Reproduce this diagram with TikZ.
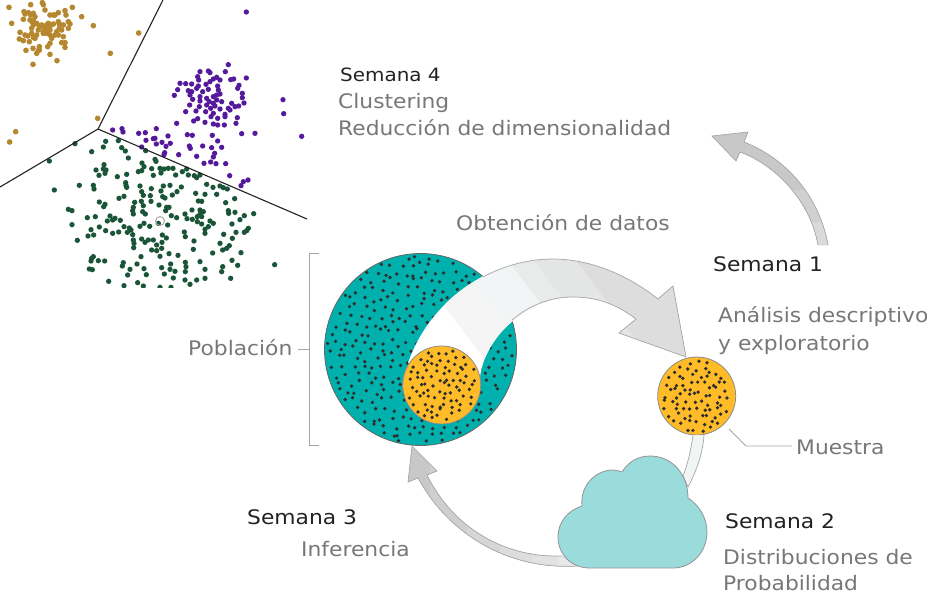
\documentclass[tikz,border=0pt]{standalone}
\usepackage{fontspec}
\setmainfont[FakeStretch=1.09]{DejaVu Sans}
\definecolor{teal1}{HTML}{00B0AD}
\definecolor{orange1}{HTML}{FFBB28}
\definecolor{cloud1}{HTML}{9ADCDB}
\definecolor{txtgray}{HTML}{777777}
\definecolor{txtdark}{HTML}{222222}
\definecolor{edge1}{HTML}{A6A6A6}
\definecolor{brown1}{HTML}{B5872E}
\definecolor{purple1}{HTML}{551A9B}
\definecolor{green1}{HTML}{1B5538}
\definecolor{F1F5F5}{HTML}{F1F5F5}
\definecolor{E9EBEB}{HTML}{E9EBEB}
\definecolor{E4E5E5}{HTML}{E4E5E5}
\definecolor{DDDDDD}{HTML}{DDDDDD}
\definecolor{C8C8C8}{HTML}{C8C8C8}
\definecolor{CFCFCF}{HTML}{CFCFCF}
\definecolor{D6D6D6}{HTML}{D6D6D6}
\definecolor{E2E2E2}{HTML}{E2E2E2}
\definecolor{E8E8E8}{HTML}{E8E8E8}
\definecolor{D0D0D0}{HTML}{D0D0D0}
\definecolor{DADADA}{HTML}{DADADA}
\tikzset{
  head/.style={anchor=base west,inner sep=0pt,text=txtdark,font=\fontsize{20}{24}\selectfont},
  headsmall/.style={anchor=base west,inner sep=0pt,text=txtdark,font=\fontsize{18.3}{22}\selectfont},
  body/.style={anchor=base west,inner sep=0pt,text=txtgray,font=\fontsize{20}{24}\selectfont},
  guide/.style={draw=edge1,line width=.8pt},
  sep/.style={draw=txtdark,line width=1.1pt},
  arrowedge/.style={draw=edge1,line width=.7pt},
  disc/.style={circle,inner sep=0pt,draw=#1}
}
\newcommand{\sprinkle}[4]{% cx cy radius spacing
  \foreach \rw in {-12,...,12}{
    \foreach \cl in {-12,...,12}{
      \pgfmathsetmacro\px{(\cl+0.5*mod(abs(\rw),2))*#4+rand*0.38*#4}
      \pgfmathsetmacro\py{\rw*#4*0.866+rand*0.38*#4}
      \pgfmathsetmacro\inside{veclen(\px,\py)<#3?1:0}
      \ifdim\inside pt>0.5pt
        \fill[black!82] ({#1+\px},{#2+\py}) circle (1.85);
      \fi
    }
  }}
\newcommand{\bandfill}[3]{\fill[#1] ({#2-76},{#3-100}) -- ({#2+76},{#3+100}) -- (800,{#3+100}) -- (800,{#3-100}) -- cycle;}
\def\bigouter{(408,363) .. controls (430,300) and (490,259) .. (553,259) .. controls (590,259) and (628,275) .. (658,299)}
\def\biginner{(636,319) .. controls (615,303) and (595,297) .. (573,297) .. controls (530,297) and (485,335) .. (480,377)}
\def\lowouter{(577,566) .. controls (515,570) and (452,540) .. (418,478)}
\def\lowinner{(427,475) .. controls (453,528) and (505,558) .. (562,556)}
\def\topouter{(828,245) .. controls (820,200) and (790,160) .. (744,142)}
\def\topinner{(740,152) .. controls (775,165) and (810,200) .. (818,245)}
\begin{document}
\begin{tikzpicture}[x=1pt,y=-1pt]
\useasboundingbox (0,0) rectangle (927,592);
% clusters
\begin{scope}
\clip (0,0) rectangle (307,287);
\begin{scope}[x=.33333pt,y=-.33333pt]
\foreach \p/\q in {27/22,92/14,127/8,130/14,217/22,245/50,280/77,416/99,331/160,293/355,47/395,29/426,35/70,99/193,171/182,150/163,78/151,99/145,72/35,85/38,100/40,135/30,150/45,165/45,175/38,195/32,198/45,205/65,210/72,205/85,70/58,90/60,110/70,125/75,145/70,160/72,175/65,190/75,95/85,115/90,135/85,150/90,170/95,185/90,60/97,75/105,95/100,110/105,130/100,150/105,175/105,190/110,58/117,70/122,88/125,105/115,155/115,185/128,195/142,150/130,143/140,118/140,115/152,110/160,96/65,120/80,140/75,130/95,100/75,118/78,150/78,165/105,178/85,83/108,100/112,142/92,160/45,92/45,105/50,195/128,118/150,75/42,100/62,178/72,140/100,148/82}
  \fill[brown1] (\p,\q) circle (8.5);
\foreach \p/\q in {739/36,685/194,600/215,625/213,630/218,660/240,676/215,739/234,692/239,701/237,593/230,596/240,650/232,640/237,540/250,557/251,575/252,595/258,630/245,618/253,653/258,717/256,713/265,533/269,565/272,575/275,590/265,625/268,655/270,608/275,650/285,660/282,727/280,727/293,523/286,570/285,578/298,600/290,600/303,620/295,640/290,628/305,640/310,620/315,645/318,650/300,665/305,695/310,705/320,716/318,732/309,685/325,690/330,569/315,598/320,557/335,588/333,617/335,632/325,660/327,675/343,640/340,633/350,675/350,653/355,712/353,593/356,581/363,530/370,615/367,640/372,653/375,673/375,708/370,849/299,851/341,338/390,366/386,369/396,416/400,436/398,469/386,725/401,765/400,905/409,562/404,577/406,637/406,504/408,465/415,460/416,438/421,486/427,511/430,469/432,653/423,425/441,498/439,568/438,571/445,608/438,635/443,665/442,494/458,492/464,536/464,590/469,644/460,640/471,612/490,632/486,648/491,677/491,689/527,730/545,744/540,723/557}
  \fill[purple1] (\p,\q) circle (8);
\foreach \p/\q in {225/431,317/424,355/422,275/455,310/441,365/443,376/453,437/452,385/474,148/483,465/478,468/484,312/494,426/489,288/510,310/507,318/510,315/520,297/526,380/523,352/530,432/500,425/512,415/515,455/506,480/505,492/507,505/505,519/505,483/519,460/526,527/525,547/515,560/507,565/525,583/527,590/533,600/525,238/556,280/556,282/567,163/570,377/548,378/556,380/562,420/558,454/566,490/558,510/556,544/561,620/553,639/562,660/558,670/563,682/567,425/575,430/586,451/587,483/573,488/590,495/594,517/585,531/575,587/580,615/583,650/583,357/595,372/589,298/606,315/613,311/620,404/607,424/604,430/617,453/604,477/615,595/603,605/604,677/608,704/596,205/628,216/632,400/622,398/632,428/635,436/642,500/622,497/632,507/622,555/642,576/630,600/630,610/635,685/632,686/640,705/637,761/641,262/653,286/650,330/648,345/655,322/663,338/660,361/661,400/642,514/647,530/653,561/656,577/658,592/650,600/643,605/650,720/659,733/647,216/674,298/681,372/680,388/684,432/670,420/679,449/679,475/670,503/675,592/665,605/672,630/663,640/670,625/680,615/688,696/672,273/689,317/692,338/700,356/696,382/697,393/690,398/704,487/705,553/696,615/700,671/703,708/697,733/697,745/685,740/692,264/708,281/705,232/721,400/720,402/730,425/717,435/727,445/720,460/720,470/735,486/727,499/714,556/710,582/723,697/715,660/730,401/743,455/750,470/752,485/745,580/748,668/750,680/745,688/737,638/759,723/758,423/770,480/769,507/761,534/766,275/775,280/770,273/783,295/782,314/783,600/785,696/781,370/788,367/798,411/792,512/792,556/787,558/800,713/796,824/794,268/807,277/809,432/806,485/803,510/808,525/814,615/808,668/800,665/815,390/808,383/825,439/824,493/822,556/815,520/834,326/844,413/848,555/840,590/840,615/835,692/835,372/857,430/858,570/853,480/862,513/862}
  \fill[green1] (\p,\q) circle (8);
\end{scope}
\end{scope}
\coordinate (hub) at (98,129);
\coordinate (sepA) at (163,0);
\coordinate (sepB) at (0,187);
\coordinate (sepC) at (307,219);
\draw[sep] (hub) -- (sepA);
\draw[sep] (hub) -- (sepB);
\draw[sep] (hub) -- (sepC);
\node[disc=black!35,line width=.9pt,minimum size=9pt] (centroid) at (160,221) {};
% population
\node[disc=black!60,fill=teal1,line width=.8pt,minimum size=192pt] (pop) at (420.5,349.5) {};
\pgfmathsetseed{4177}
\sprinkle{420.5}{349.5}{94}{9.85}
% big arrow
\begin{scope}
\clip \bigouter -- (673,286) -- (686,357) -- (619,333) -- \biginner -- cycle;
\fill[white] (380,240) rectangle (700,380);
\bandfill{white!96!black}{445}{307}
\bandfill{F1F5F5}{475}{282}
\bandfill{E9EBEB}{513}{267}
\bandfill{E4E5E5}{535}{262}
\bandfill{DDDDDD}{577}{262}
\end{scope}
\draw[arrowedge] (483,277) .. controls (505,265) and (530,259) .. (553,259) .. controls (590,259) and (628,275) .. (658,299) -- (673,286) -- (686,357) -- (619,333) -- (636,319) .. controls (615,303) and (595,297) .. (573,297) .. controls (550,297) and (530,305) .. (512,320);
% inner sample
\node[disc=black!45,fill=orange1,line width=.8pt,minimum size=78pt] (sub) at (441.7,385) {};
\pgfmathsetseed{91}
\sprinkle{441.7}{385}{36}{7.6}
% sample
\node[disc=black!45,fill=orange1,line width=.8pt,minimum size=78pt] (sample) at (696.7,396) {};
\pgfmathsetseed{377}
\sprinkle{696.7}{396}{36}{7.6}
% thin arrow to cloud
\draw[arrowedge,fill=F1F5F5] (693,435) .. controls (691,450) and (688,463) .. (683,476) -- (688,487) .. controls (697,470) and (703,452) .. (704,435);
% lower arrow
\begin{scope}
\clip \lowouter -- (408,482) -- (412,446) -- (437,471) -- \lowinner -- cycle;
\fill[C8C8C8] (400,440) rectangle (600,570);
\fill[CFCFCF] (430,440) rectangle (600,575);
\fill[D6D6D6] (467,440) rectangle (600,575);
\fill[DDDDDD] (500,440) rectangle (600,575);
\fill[E2E2E2] (532,440) rectangle (600,575);
\fill[E8E8E8] (558,440) rectangle (600,575);
\end{scope}
\draw[arrowedge] \lowouter -- (408,482) -- (412,446) -- (437,471) -- \lowinner;
% cloud
\draw[line width=.8pt,draw=black!42,fill=cloud1] (590,568) .. controls (570,568) and (558,553) .. (558,537) .. controls (558,521) and (569,510) .. (582,506) .. controls (580,485) and (596,470) .. (613,470) .. controls (616,470) and (619,471) .. (622,472) .. controls (628,462) and (638,456) .. (650,456) .. controls (672,456) and (688,474) .. (688,498) .. controls (699,505) and (707,518) .. (707,532) .. controls (707,552) and (692,568) .. (673,568) -- cycle;
% top arrow
\begin{scope}
\clip \topouter -- (748,132) -- (712,136) -- (736,161) -- \topinner -- cycle;
\fill[C8C8C8] (700,120) rectangle (840,250);
\fill[D0D0D0] (700,190) rectangle (840,250);
\fill[DADADA] (700,222) rectangle (840,250);
\end{scope}
\draw[arrowedge] \topouter -- (748,132) -- (712,136) -- (736,161) -- \topinner;
% texts
\node[headsmall] (s4) at (340,81) {Semana 4};
\node[body] (clu) at (338,108) {Clustering};
\node[body] (red) at (338,135) {Reducción de dimensionalidad};
\node[body] (obt) at (456,230) {Obtención de datos};
\node[head] (s1) at (713,271) {Semana 1};
\node[body] (ana) at (718,322) {Análisis descriptivo};
\node[body] (exp) at (718,350) {y exploratorio};
\node[body] (pob) at (188,355) {Población};
\node[body] (mue) at (796,454) {Muestra};
\node[head] (s2) at (725,528) {Semana 2};
\node[body] (dis) at (723,564) {Distribuciones de};
\node[body] (pro) at (723,590.5) {Probabilidad};
\node[head] (s3) at (247,524) {Semana 3};
\node[body] (inf) at (301,556) {Inferencia};
% guides
\coordinate (brT) at (319,253);
\coordinate (brTL) at (309,253);
\coordinate (brBL) at (309,445);
\coordinate (brB) at (319,445);
\coordinate (brM) at (309,349);
\coordinate (pobEnd) at (298,349);
\draw[guide] (brT) -- (brTL) -- (brBL) -- (brB);
\draw[guide] (pobEnd) -- (brM);
\coordinate (leadA) at (729,429);
\coordinate (leadB) at (746,446);
\coordinate (leadC) at (792,446);
\draw[guide] (leadA) -- (leadB) -- (leadC);
\end{tikzpicture}
\end{document}
